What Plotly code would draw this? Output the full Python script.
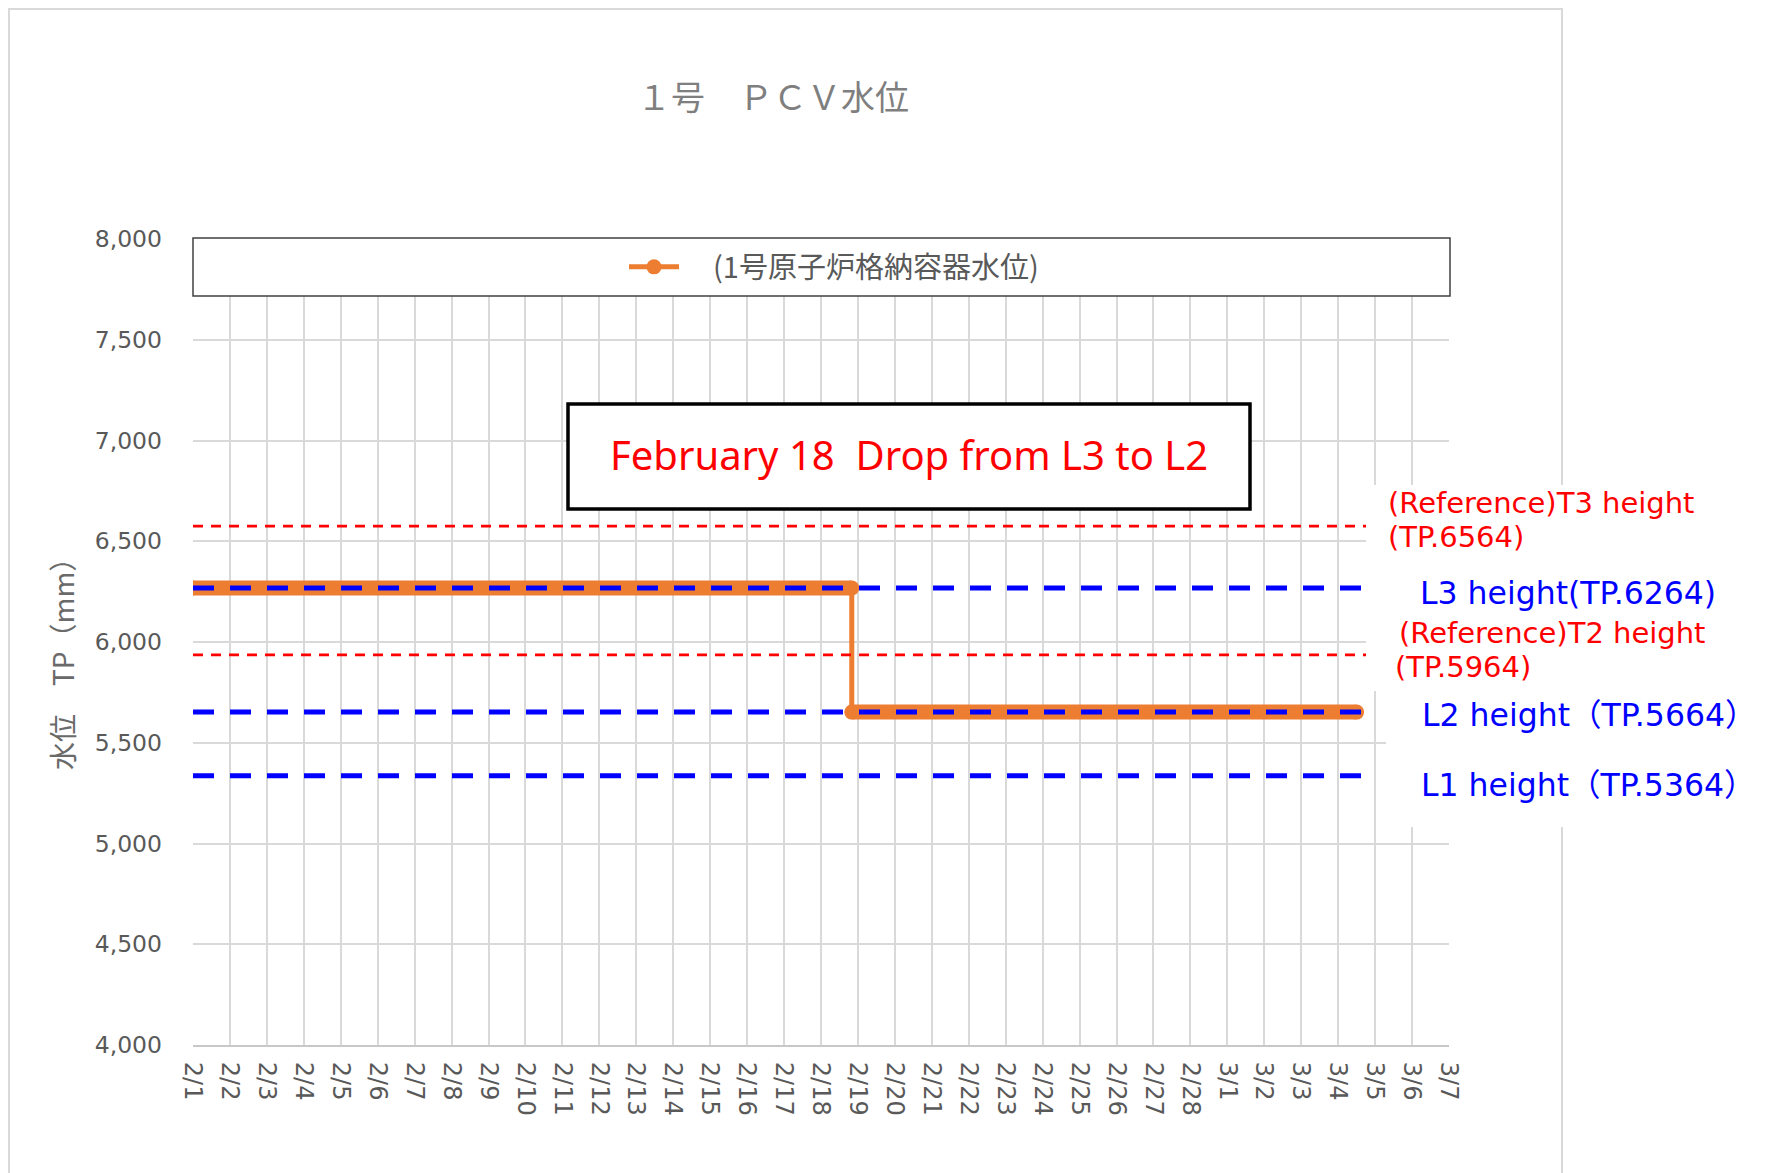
import pandas as pd
import plotly.graph_objects as go

# ---------------- data ----------------
tick_labels = ["2/1", "2/2", "2/3", "2/4", "2/5", "2/6", "2/7", "2/8", "2/9", "2/10",
               "2/11", "2/12", "2/13", "2/14", "2/15", "2/16", "2/17", "2/18", "2/19",
               "2/20", "2/21", "2/22", "2/23", "2/24", "2/25", "2/26", "2/27", "2/28",
               "3/1", "3/2", "3/3", "3/4", "3/5", "3/6", "3/7"]
axis_start = "2021-02-01"
axis_end = "2021-03-07"

obs_time = ["2021-02-01 00:00", "2021-02-18 20:00", "2021-02-18 20:00", "2021-03-04 12:00"]
obs_level = [6268, 6268, 5652, 5652]
series_name = "(1号原子炉格納容器水位)"

# reference lines as drawn in the picture (labels give the nominal TP values)
ref_levels = [6575, 6268, 5936, 5652, 5336]
ref_kinds = ["T", "L", "T", "L", "L"]
ref_end = "2021-03-05"
ref_labels = [["(Reference)T3 height", "(TP.6564)"],
              ["L3 height(TP.6264)"],
              ["(Reference)T2 height", "(TP.5964)"],
              ["L2 height（TP.5664）"],
              ["L1 height（TP.5364）"]]

title_text = "１号　ＰＣＶ水位"
ytitle_text = "水位　TP（mm）"
note_text = "February 18\u00a0 Drop from L3 to L2"

y_range = [4000, 8000]
y_dtick = 500

# ---------------- layout geometry ----------------
W, H = 1771, 1173
OFF = 8  # page body margin
# plot area in page pixels
PL, PR, PT, PB = 193, 1449, 239, 1045
L, R, T, B = PL - OFF, PR - OFF, PT - OFF, PB - OFF


def px(x):
    return (x - PL) / (PR - PL)


def py(y):
    return (PB - y) / (PB - PT)


ORANGE = "#ED7D31"
GRID = "#d9d9d9"
TXT = "#595959"
LAT = "DejaVu Sans, Noto Sans CJK JP"
CJK = "Noto Sans CJK JP, DejaVu Sans"

fig = go.Figure()

# thick horizontal runs of the series (dense hourly markers in the original)
xs, ys = [], []
for i, (t, v) in enumerate(zip(obs_time, obs_level)):
    if i > 0 and v != obs_level[i - 1]:
        xs.append(None)
        ys.append(None)
    xs.append(t)
    ys.append(v)
fig.add_trace(go.Scatter(x=xs, y=ys, mode="lines", line=dict(color=ORANGE, width=15),
                         showlegend=False, hoverinfo="skip"))
fig.add_trace(go.Scatter(x=obs_time, y=obs_level, mode="lines+markers",
                         name="\u2003" + series_name,
                         line=dict(color=ORANGE, width=5),
                         marker=dict(color=ORANGE, size=15)))

# reference lines
for lvl, kind in zip(ref_levels, ref_kinds):
    if kind == "L":
        ln = dict(color="#0000FF", width=5, dash="21px,16px")
    else:
        ln = dict(color="#FF0000", width=2.7, dash="10px,8px")
    fig.add_trace(go.Scatter(x=[axis_start, ref_end], y=[lvl, lvl], mode="lines", line=ln,
                             showlegend=False, hoverinfo="skip"))

tickvals = pd.date_range(axis_start, axis_end, freq="D")

shapes = [
    # outer chart frame
    dict(type="rect", xref="paper", yref="paper", x0=px(9), x1=px(1562), y0=py(1250), y1=py(9),
         line=dict(color=GRID, width=2), fillcolor="rgba(0,0,0,0)", layer="below"),
    # legend box
    dict(type="rect", xref="paper", yref="paper", x0=px(193), x1=px(1450), y0=py(296), y1=py(238),
         line=dict(color="#404040", width=1.5), fillcolor="white", layer="above"),
    # annotation box
    dict(type="rect", xref="paper", yref="paper", x0=px(568), x1=px(1250), y0=py(509), y1=py(404),
         line=dict(color="black", width=3.5), fillcolor="white", layer="above"),
    # white backgrounds under the right-hand labels
    dict(type="rect", xref="paper", yref="paper", x0=px(1366), x1=px(1780), y0=py(691), y1=py(485),
         line=dict(width=0), fillcolor="white", layer="above"),
    dict(type="rect", xref="paper", yref="paper", x0=px(1386), x1=px(1780), y0=py(827), y1=py(690),
         line=dict(width=0), fillcolor="white", layer="above"),
]

annotations = [
    dict(text=title_text, x=px(773), y=py(95), xref="paper", yref="paper", showarrow=False,
         xanchor="center", yanchor="middle", font=dict(family=CJK, size=34, color="#7f7f7f")),
    dict(text=ytitle_text, x=px(62), y=py(657), xref="paper", yref="paper", showarrow=False,
         textangle=-90, xanchor="center", yanchor="middle",
         font=dict(family=CJK, size=28, color="#6a6a6a")),
    dict(text=note_text, x=px(909), y=py(454), xref="paper", yref="paper", showarrow=False,
         xanchor="center", yanchor="middle",
         font=dict(family="Noto Sans, DejaVu Sans", size=40, color="#FF0000")),
]

label_pos = [[(1386, 503), (1386, 537)],
             [(1418, 593)],
             [(1397, 633), (1393, 667)],
             [(1420, 715)],
             [(1419, 785)]]
for lines, kind, pos in zip(ref_labels, ref_kinds, label_pos):
    col = "#FF0000" if kind == "T" else "#0000FF"
    size = 29 if kind == "T" else 31.5
    for text, (x, y) in zip(lines, pos):
        annotations.append(dict(text=text, x=px(x), y=py(y), xref="paper", yref="paper",
                                showarrow=False, xanchor="left", yanchor="middle",
                                font=dict(family=LAT, size=size, color=col)))

fig.update_layout(
    width=W, height=H,
    margin=dict(l=L, r=W - R, t=T, b=H - B, pad=0),
    paper_bgcolor="white", plot_bgcolor="white",
    shapes=shapes, annotations=annotations,
    showlegend=True,
    legend=dict(orientation="h", x=px(834), xanchor="center", y=py(267), yanchor="middle",
                bgcolor="rgba(0,0,0,0)", font=dict(family=CJK, size=29, color=TXT),
                itemwidth=50),
    xaxis=dict(type="date", range=[axis_start, axis_end], tickmode="array",
               tickvals=tickvals, ticktext=tick_labels, tickangle=90,
               showgrid=True, gridcolor=GRID, gridwidth=1.5,
               showline=True, linecolor="#c8c8c8", linewidth=2,
               ticks="", ticklabelstandoff=10,
               tickfont=dict(family=LAT, size=24, color=TXT), zeroline=False),
    yaxis=dict(range=y_range, dtick=y_dtick, tickformat=",", showgrid=True,
               gridcolor=GRID, gridwidth=1.5, zeroline=False, ticks="",
               ticklabelstandoff=30, showline=False,
               tickfont=dict(family=LAT, size=23.5, color=TXT)),
)

fig.write_html("out.html")
